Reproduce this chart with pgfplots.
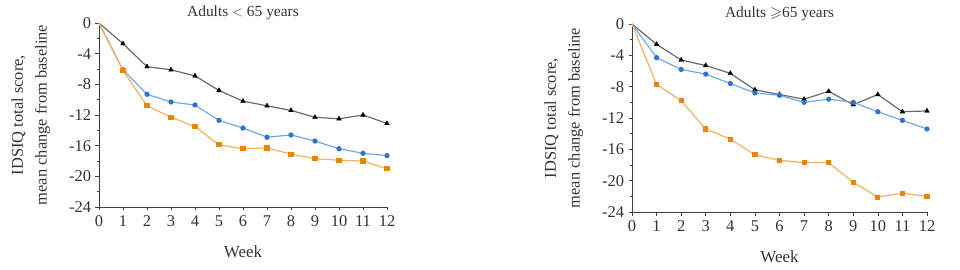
\documentclass[border=0pt]{standalone}
\usepackage{amssymb}
\usepackage{pgfplots}
\pgfplotsset{compat=1.18}
\usepackage{fontspec}
\setmainfont{Liberation Serif}
\definecolor{cgray}{HTML}{6A6A6A}
\definecolor{cblueL}{HTML}{72A9E0}
\definecolor{cblueM}{HTML}{2F72D2}
\definecolor{corL}{HTML}{F0B262}
\definecolor{corM}{HTML}{E5870F}
\pgfplotstableread{
w blk blu ora
0 0 0 0
1 -2.7 -6.1 -6.2
2 -5.7 -9.3 -10.8
3 -6.1 -10.3 -12.3
4 -6.9 -10.7 -13.5
5 -8.8 -12.7 -15.9
6 -10.2 -13.7 -16.4
7 -10.8 -14.9 -16.3
8 -11.4 -14.6 -17.1
9 -12.3 -15.4 -17.7
10 -12.5 -16.4 -17.9
11 -12.0 -17.0 -18.0
12 -13.1 -17.3 -19.0
}\tblA
\pgfplotstableread{
w blk blu ora
0 0 0 0
1 -2.6 -4.3 -7.7
2 -4.6 -5.8 -9.8
3 -5.3 -6.4 -13.4
4 -6.3 -7.6 -14.7
5 -8.4 -8.8 -16.7
6 -9.0 -9.1 -17.4
7 -9.6 -10.0 -17.7
8 -8.6 -9.6 -17.7
9 -10.3 -10.0 -20.2
10 -9.0 -11.2 -22.1
11 -11.2 -12.3 -21.6
12 -11.1 -13.4 -22.0
}\tblB
\pgfplotsset{
  mystyle/.style={
    scale only axis,
    anchor=south west,
    xmin=0, xmax=12, ymin=-24, ymax=0,
    axis x line*=bottom, axis y line*=left,
    axis line style={draw=black!75, line width=1pt, -},
    xtick={0,...,12}, ytick={0,-4,...,-24},
    minor y tick num=1,
    tick align=outside,
    major tick length=3.5bp, minor tick length=2bp,
    tick style={black!75, line width=0.6pt},
    clip=false,
    /pgf/number format/assume math mode=true,
    ticklabel style={font=\fontsize{16.5}{18}\selectfont, black!80},
    xticklabel style={yshift=-2bp},
    yticklabel style={xshift=-1bp},
    xlabel={Week},
    xlabel style={font=\fontsize{17}{19}\selectfont, black!80, yshift=-12bp},
    ylabel style={font=\fontsize{16.5}{24}\selectfont, black!80, align=center, yshift=12bp},
    title style={font=\fontsize{15.5}{17}\selectfont, black!80, yshift=-6bp},
  },
  sblk/.style={cgray, line width=1.2pt, mark=triangle*, mark size=2.8pt, mark indices={2,...,13}, mark options={fill=black, draw=black, line width=0.3pt}},
  sblu/.style={cblueL, line width=1.2pt, mark=*, mark size=2pt, mark indices={2,...,13}, mark options={fill=cblueM, draw=cblueM}},
  sora/.style={corL, line width=1.2pt, mark=square*, mark size=2pt, mark indices={2,...,13}, mark options={fill=corM, draw=corM}},
}
\begin{document}
\begin{tikzpicture}
\path[use as bounding box] (0,0) rectangle (960bp,270bp);
\begin{axis}[mystyle, at={(99bp,63bp)}, width=288bp, height=184bp,
  title={Adults $<$ 65 years},
  ylabel={IDSIQ total score,\\mean change from baseline}]
\addplot[sblk] table[x=w,y=blk]{\tblA};
\addplot[sblu] table[x=w,y=blu]{\tblA};
\addplot[sora] table[x=w,y=ora]{\tblA};
\end{axis}
\begin{axis}[mystyle, at={(632bp,58bp)}, width=295bp, height=188bp,
  title={Adults $\geqslant$65 years},
  ylabel={IDSIQ total score,\\mean change from baseline}]
\addplot[sblk] table[x=w,y=blk]{\tblB};
\addplot[sblu] table[x=w,y=blu]{\tblB};
\addplot[sora] table[x=w,y=ora]{\tblB};
\end{axis}
\end{tikzpicture}
\end{document}
